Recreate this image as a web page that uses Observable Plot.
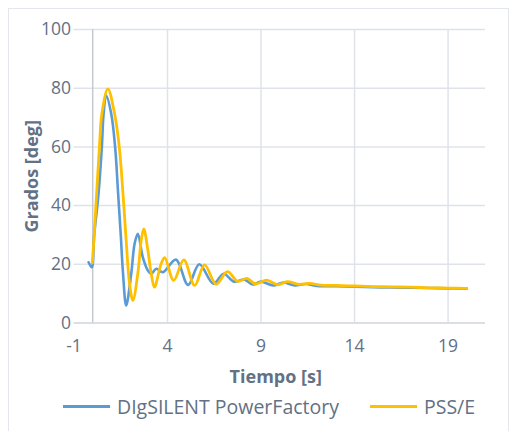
<!DOCTYPE html>
<html>
<head>
<meta charset="utf-8">
<script src="https://cdn.jsdelivr.net/npm/d3@7"></script>
<script src="https://cdn.jsdelivr.net/npm/@observablehq/plot@0.6"></script>
<style>
  body { margin: 0; background: #fff; font-family: "Open Sans", Lato, sans-serif; }
  #wrap { position: relative; width: 516px; height: 431px; overflow: hidden; }
  #box { position: absolute; left: 8px; top: 8px; width: 501px; height: 430px; border: 1px solid #e3e6ea; box-sizing: border-box; }
  #chart { position: absolute; left: 0; top: 0; }
  .leg { position: absolute; top: 393px; display: flex; align-items: center; font-size: 19.5px; color: #627185; white-space: nowrap; }
  .leg span.sw { display: inline-block; width: 47px; height: 2.5px; margin-right: 7px; }
</style>
</head>
<body>
<div id="wrap">
  <div id="box"></div>
  <div id="chart"></div>
  <div class="leg" id="leg1" style="left:63px"><span class="sw"></span><span class="tx"></span></div>
  <div class="leg" id="leg2" style="left:370px"><span class="sw"></span><span class="tx"></span></div>
</div>
<script>
// ---- data ----
const seriesNames = ["DIgSILENT PowerFactory", "PSS/E"];
const seriesColors = ["#5b9bd5", "#ffc000"];
const xTicks = [-1, 4, 9, 14, 19];
const yTicks = [0, 20, 40, 60, 80, 100];
const xLabel = "Tiempo [s]";
const yLabel = "Grados [deg]";

const blueT = [-0.22, -0.05, 0.08, 0.31, 0.49, 0.58, 0.72, 0.99, 1.2, 1.36, 1.5, 1.62, 1.79, 2.06, 2.24, 2.41, 2.68, 2.95, 3.13, 3.4, 3.75, 4.45, 5.1, 5.7, 6.45, 7.0, 7.55, 8.1, 8.55, 9.0, 9.65, 10.2, 10.8, 11.4, 12.0, 13.0, 14.0, 15.0, 16.0, 17.0, 18.0, 19.0, 20.0];
const blueV = [20.7, 19.0, 30.0, 44.0, 60.0, 71.0, 77.5, 71.3, 59.8, 44.0, 30.0, 17.0, 6.0, 16.8, 27.0, 30.4, 22.4, 17.9, 16.8, 18.5, 17.3, 21.6, 13.0, 20.0, 13.4, 16.8, 14.1, 14.8, 13.1, 14.1, 12.8, 13.8, 12.8, 13.3, 12.6, 12.5, 12.4, 12.2, 12.1, 12.0, 11.9, 11.8, 11.7];

const yellowT = [-0.02, 0.08, 0.19, 0.36, 0.49, 0.81, 1.17, 1.42, 1.62, 1.79, 1.97, 2.15, 2.41, 2.59, 2.73, 2.95, 3.13, 3.3, 3.66, 3.85, 4.33, 4.87, 5.45, 5.98, 6.6, 7.2, 7.75, 8.25, 8.7, 9.3, 9.9, 10.4, 11.0, 11.6, 12.2, 13.0, 14.0, 15.0, 16.0, 17.0, 18.0, 19.0, 20.0];
const yellowV = [20.5, 30.0, 42.0, 60.0, 71.3, 79.8, 71.3, 60.0, 44.0, 28.0, 13.4, 7.7, 16.8, 28.0, 32.1, 24.7, 16.8, 12.2, 20.2, 22.3, 14.5, 21.5, 12.8, 19.8, 13.2, 17.5, 14.2, 15.2, 13.3, 14.6, 13.0, 14.1, 13.2, 13.5, 12.9, 12.8, 12.6, 12.4, 12.3, 12.2, 12.0, 11.9, 11.8];

const blue = blueT.map((t, i) => ({t, v: blueV[i]}));
const yellow = yellowT.map((t, i) => ({t, v: yellowV[i]}));

const textColor = "#627185";
const font = "'Open Sans', Lato, sans-serif";
const chart = Plot.plot({
  width: 516,
  height: 390,
  marginLeft: 73.5,
  marginRight: 31,
  marginTop: 29,
  marginBottom: 67.5,
  style: {fontFamily: font, fontSize: "17.5px", color: textColor, background: "transparent"},
  x: {domain: [-1, 21]},
  y: {domain: [0, 100]},
  marks: [
    Plot.gridY(yTicks.filter(d => d > 0), {stroke: "#dfe3e9", strokeOpacity: 1, strokeWidth: 1.5}),
    Plot.gridX(xTicks.filter(d => d > 0), {stroke: "#dfe3e9", strokeOpacity: 1, strokeWidth: 1.5}),
    Plot.ruleY([0], {stroke: "#cfd5dd", strokeWidth: 1.5}),
    Plot.ruleX([0], {stroke: "#c3cad4", strokeWidth: 1.5}),
    Plot.axisX(xTicks, {tickSize: 0, tickPadding: 17, label: null, fill: textColor, tickFormat: d => String(d)}),
    Plot.axisY(yTicks, {tickSize: 0, tickPadding: 3, label: null, fill: textColor, tickFormat: d => String(d)}),
    Plot.line(blue, {x: "t", y: "v", stroke: seriesColors[0], strokeWidth: 2.6, curve: "catmull-rom"}),
    Plot.line(yellow, {x: "t", y: "v", stroke: seriesColors[1], strokeWidth: 2.8, curve: "catmull-rom"}),
    Plot.text([xLabel], {frameAnchor: "bottom", lineAnchor: "middle", textAnchor: "middle", dy: 54, dx: -4, fontSize: 18, fontWeight: "bold", fill: textColor}),
    Plot.text([yLabel], {frameAnchor: "left", lineAnchor: "middle", textAnchor: "middle", dx: -42, rotate: -90, fontSize: 18, fontWeight: "bold", fill: textColor})
  ]
});
document.getElementById("chart").appendChild(chart);

["leg1", "leg2"].forEach((id, i) => {
  const el = document.getElementById(id);
  el.querySelector(".sw").style.background = seriesColors[i];
  el.querySelector(".tx").textContent = seriesNames[i];
});
</script>
</body>
</html>
